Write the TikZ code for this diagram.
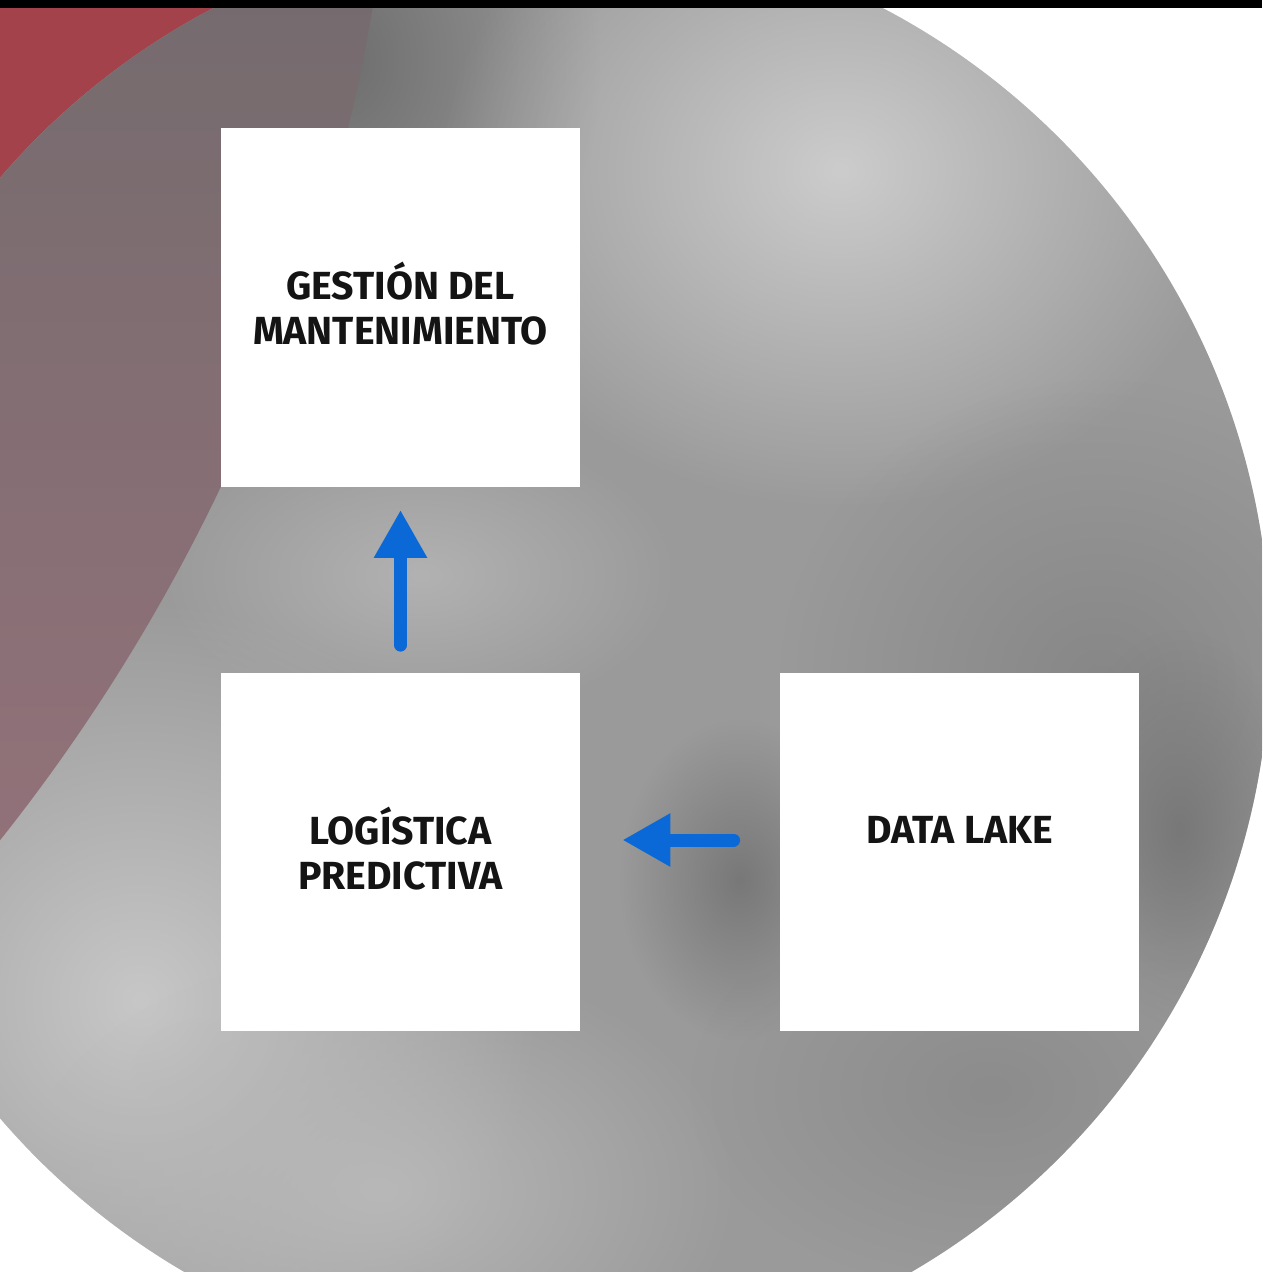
\documentclass[tikz,border=0pt]{standalone}
\usepackage{fontspec}
\setmainfont{Fira Sans}
\usetikzlibrary{arrows.meta,fadings}
\definecolor{redc}{HTML}{A3424B}
\definecolor{arrowblue}{HTML}{0A69D6}
\definecolor{ovtop}{HTML}{756B6E}
\definecolor{ovbot}{HTML}{94727A}
\tikzfading[name=softblob, inner color=transparent!0, outer color=transparent!100]
\begin{document}
\begin{tikzpicture}[x=0.5pt,y=-0.5pt,
  box/.style={fill=white, minimum width=179.5pt, minimum height=179pt, inner sep=0pt,
    align=center, font=\fontsize{19.6}{22.5}\selectfont\bfseries, text=black!92},
  flow/.style={draw=arrowblue, line width=6.5pt, line cap=round,
    -{Triangle[width=25pt,length=24pt]}},
  blob/.style={path fading=softblob}]
\useasboundingbox (0,0) rectangle (1262,1272);
\begin{scope}
  \clip (0,0) rectangle (1262,1272);
  \fill[white] (0,0) rectangle (1262,1272);
  % red disc
  \fill[redc] (-1441,-304) circle (1840);
  % grey sphere
  \begin{scope}
    \clip (548,648) circle (722);
    \fill[black!39.6] (0,0) rectangle (1262,1272);
    \fill[black!57, blob] (340,60) ellipse (260 and 320);
    \fill[black!20, blob] (840,170) ellipse (400 and 340);
    \fill[black!47, blob] (1100,680) ellipse (320 and 300);
    \fill[black!53, blob] (1180,830) ellipse (120 and 200);
    \fill[black!22, blob] (140,1000) ellipse (400 and 400);
    \fill[black!28, blob] (380,1190) ellipse (360 and 240);
    \fill[black!30, blob] (420,575) ellipse (260 and 150);
    \fill[black!53, blob] (740,880) ellipse (120 and 160);
    \fill[black!45, blob] (990,1090) ellipse (300 and 200);
  \end{scope}
  % overlap of red disc and sphere
  \begin{scope}
    \clip (548,648) circle (722);
    \clip (-1441,-304) circle (1840);
    \shade[top color=ovtop, bottom color=ovbot] (0,0) rectangle (420,900);
  \end{scope}
  \fill[black] (0,0) rectangle (1262,8);
\end{scope}
\node[box, text depth=4pt] (gest) at (400.5,307.5) {GESTIÓN DEL\\MANTENIMIENTO};
\node[box, text depth=4pt] (logi) at (400.5,852) {LOGÍSTICA\\PREDICTIVA};
\node[box] (data) at (959.5,852) {DATA LAKE\\\mbox{}};
\draw[flow, shorten <=13.75pt, shorten >=11.5pt] (logi.north) -- (gest.south);
\draw[flow, shorten <=23pt, shorten >=21pt] ([yshift=6pt]data.west) -- ([yshift=6pt]logi.east);
\end{tikzpicture}
\end{document}
